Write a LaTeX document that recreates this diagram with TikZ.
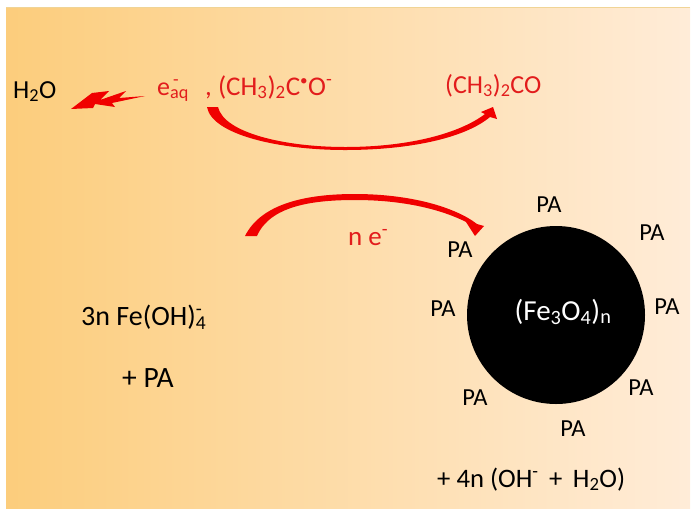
\documentclass[tikz,border=0pt]{standalone}
\usepackage{fontspec}
\usepackage{graphicx}
\setmainfont{Carlito}
\usetikzlibrary{shadings}
\definecolor{bgL}{RGB}{252,205,124}
\definecolor{bgR}{RGB}{255,236,216}
\definecolor{topline}{RGB}{240,212,150}
\definecolor{txtred}{RGB}{226,28,28}
\definecolor{arrred}{RGB}{240,0,0}
\tikzset{
  lbl/.style={inner sep=0pt, font=\fontsize{26}{30}\selectfont},
  redlbl/.style={lbl, text=txtred},
  palbl/.style={inner sep=0pt, anchor=center, font=\fontsize{24.5}{28}\selectfont},
  biglbl/.style={lbl, font=\fontsize{28}{32}\selectfont},
  redshape/.style={fill=arrred, draw=none},
}
\begin{document}
\begin{tikzpicture}[x=1pt,y=-1pt]
\useasboundingbox (0,0) rectangle (695,515);
\shade[left color=bgL, right color=bgR] (6,7) rectangle (690,508);
\draw[topline, line width=1.2pt] (6,7.5) -- (690,7.5);

% lightning bolt
\fill[arrred] (71,109) -- (92,93) -- (109,91) -- (100,100) -- (126,91) -- (119,98) -- (145,96)
  -- (112,103) -- (115,107) -- (95,104) -- (93,108) -- cycle;

% upper curved arrow
\fill[redshape] (207,107) .. controls (212,135) and (280,150) .. (345,150)
  .. controls (410,150) and (465,138) .. (490,117)
  -- (497,119) -- (493,107) -- (481,112) -- (485,114)
  .. controls (460,133) and (410,147) .. (345,147)
  .. controls (285,147) and (224,133) .. (218,107) -- cycle;

% lower curved arrow
\fill[redshape] (245,236) .. controls (262,202) and (310,194) .. (355,194)
  .. controls (410,194) and (455,207) .. (477,224)
  -- (484,226) -- (475,236) -- (466,222) -- (470,224)
  .. controls (448,212) and (410,200) .. (355,200)
  .. controls (312,200) and (270,206) .. (257,236) -- cycle;

% nanoparticle
\node[circle, fill=black, minimum size=178pt, inner sep=0pt] (np) at (556,315) {};
\node[lbl, text=white, font=\fontsize{29}{32}\selectfont] (fe) at (563,312) {(Fe\textsubscript{3}O\textsubscript{4})\textsubscript{n}};

\node[palbl] (pa1) at (549,205) {PA};
\node[palbl] (pa2) at (652,233) {PA};
\node[palbl] (pa3) at (667,307) {PA};
\node[palbl] (pa4) at (641,388) {PA};
\node[palbl] (pa5) at (573,429) {PA};
\node[palbl] (pa6) at (475,398) {PA};
\node[palbl] (pa7) at (443,309) {PA};
\node[palbl] (pa8) at (460,250) {PA};

% texts
\node[lbl, anchor=base west] (h2o) at (13,98) {H\textsubscript{2}O};
\node[redlbl, anchor=base west] (eaq) at (157,95) {e\rlap{\textsuperscript{\,-}}\textsubscript{aq}};
\node[redlbl, anchor=base west, font=\fontsize{27}{30}\selectfont] (rad) at (205,95) {, (CH\textsubscript{3})\textsubscript{2}C\textsuperscript{\scalebox{0.8}{•}}O\textsuperscript{-}};
\node[redlbl, anchor=base west] (acet) at (445,93) {(CH\textsubscript{3})\textsubscript{2}CO};
\node[redlbl, anchor=base west, font=\fontsize{27}{30}\selectfont] (ne) at (348,245) {n e\textsuperscript{-}};
\node[biglbl, anchor=base west] (feoh) at (81,325) {3n Fe(OH)\rlap{\textsuperscript{-}}\textsubscript{4}};
\node[biglbl, anchor=base west, font=\fontsize{29.5}{32}\selectfont] (pa0) at (122,387) {+ PA};
\node[lbl, anchor=base west] (oh) at (437,487) {\resizebox{188pt}{!}{\fontsize{26}{30}\selectfont + 4n (OH\textsuperscript{-} \,+\, H\textsubscript{2}O)}};
\end{tikzpicture}
\end{document}
